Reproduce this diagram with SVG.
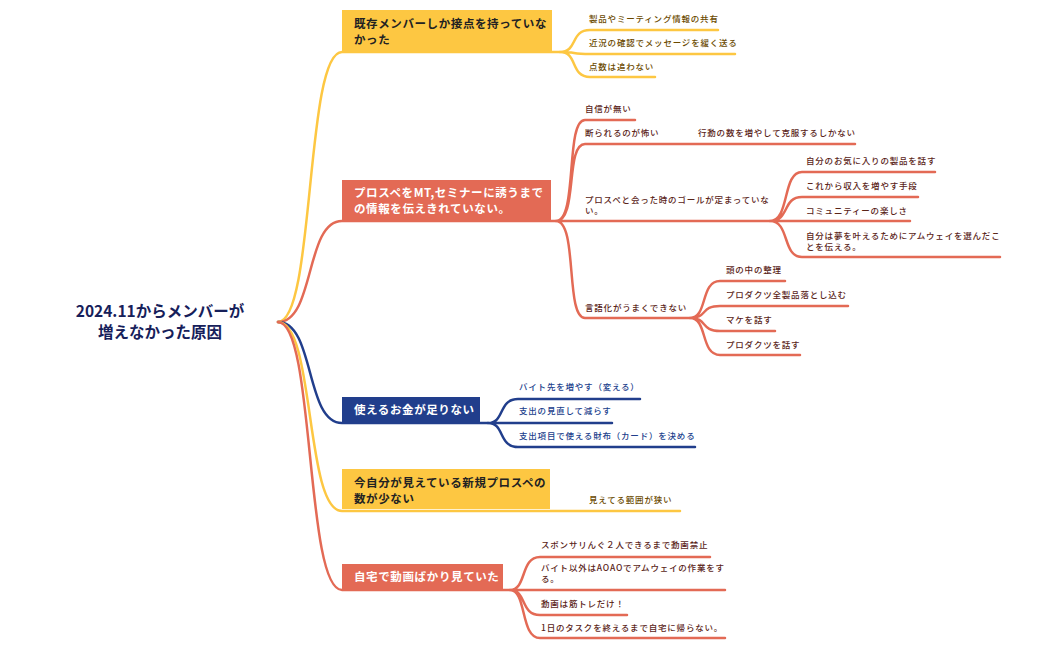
<svg xmlns="http://www.w3.org/2000/svg" width="1049" height="650" viewBox="0 0 1049 650">
<style>
text{font-family:"Noto Sans CJK JP","Noto Sans",sans-serif;}
.c{font-size:8.5px;letter-spacing:0.8px;font-weight:500}
.t{font-size:11.5px;font-weight:700;letter-spacing:0.6px}
.y{stroke:#fdc742;fill:none;stroke-width:2.5;stroke-linecap:round}
.r{stroke:#e36a55;fill:none;stroke-width:2.5;stroke-linecap:round}
.b{stroke:#213e8c;fill:none;stroke-width:2.5;stroke-linecap:round}
.yt{fill:#6b4a00}.rt{fill:#5a2418}.bt{fill:#213e8c}
</style>
<rect width="1049" height="650" fill="#fff"/>
<g id="connectors">
<path class="y" d="M278,322 C315,322 305,52 342,52 H560"/>
<path class="r" d="M278,322 C315,322 305,221 342,221 H556"/>
<path class="b" d="M278,322 C315,322 305,423 342,423 H488"/>
<path class="y" d="M278,322 C315,322 305,511 342,511 H680"/>
<path class="r" d="M278,322 C315,322 305,590 342,590 H510"/>
<path class="y" d="M560,52 C578,52 570,30 590,30 H718 M560,52 C578,52 570,54 590,54 H735 M560,52 C578,52 570,77 590,77 H655"/>
<path class="r" d="M556,221 C578,221 565,120 585,120 H635 M556,221 C578,221 565,144 585,144 H855 M556,221 H770 M556,221 C578,221 565,318 585,318 H690"/>
<path class="r" d="M770,221 C790,221 782,172 802,172 H935 M770,221 C790,221 782,197 802,197 H918 M770,221 H910 M770,221 C790,221 782,257 802,257 H1000"/>
<path class="r" d="M690,318 C708,318 700,281 720,281 H785 M690,318 C708,318 700,306 720,306 H848 M690,318 C708,318 700,331 720,331 H775 M690,318 C708,318 700,355 720,355 H800"/>
<path class="b" d="M488,423 C505,423 498,399 518,399 H640 M488,423 H612 M488,423 C505,423 498,447 518,447 H695"/>
<path class="r" d="M510,590 C527,590 520,557 540,557 H710 M510,590 H725 M510,590 C527,590 520,615 540,615 H627 M510,590 C527,590 520,638 540,638 H725"/>
</g>
<g id="root"><text x="160" y="317" text-anchor="middle" font-size="15.5" font-weight="700" fill="#16205a">2024.11からメンバーが</text><text x="160" y="338" text-anchor="middle" font-size="15.5" font-weight="700" fill="#16205a">増えなかった原因</text></g>
<g id="t1"><rect x="342" y="10" width="210" height="42" fill="#fdc742"/><text class="t" x="354" y="28" fill="#222">既存メンバーしか接点を持っていな</text><text class="t" x="354" y="44" fill="#222">かった</text></g>
<g id="t1c"><text class="c yt" x="589" y="22">製品やミーティング情報の共有</text><text class="c yt" x="589" y="46">近況の確認でメッセージを緩く送る</text><text class="c yt" x="589" y="70">点数は追わない</text></g>
<g id="t2"><rect x="342" y="180" width="209" height="40" fill="#e36a55"/><text class="t" x="354" y="197" fill="#fff">プロスペをMT,セミナーに誘うまで</text><text class="t" x="354" y="213" fill="#fff">の情報を伝えきれていない。</text></g>
<g id="t2c"><text class="c rt" x="585" y="112">自信が無い</text><text class="c rt" x="585" y="136">断られるのが怖い</text><text class="c rt" x="698" y="136">行動の数を増やして克服するしかない</text><text class="c rt" x="585" y="203">プロスペと会った時のゴールが定まっていな</text><text class="c rt" x="585" y="214">い。</text><text class="c rt" x="585" y="311">言語化がうまくできない</text>
<text class="c rt" x="806" y="164">自分のお気に入りの製品を話す</text><text class="c rt" x="806" y="189">これから収入を増やす手段</text><text class="c rt" x="806" y="214">コミュニティーの楽しさ</text><text class="c rt" x="806" y="239">自分は夢を叶えるためにアムウェイを選んだこ</text><text class="c rt" x="806" y="250">とを伝える。</text>
<text class="c rt" x="726" y="273">頭の中の整理</text><text class="c rt" x="726" y="298">プロダクツ全製品落とし込む</text><text class="c rt" x="726" y="323">マケを話す</text><text class="c rt" x="726" y="348">プロダクツを話す</text></g>
<g id="t3"><rect x="342" y="397" width="138" height="25" fill="#213e8c"/><text class="t" x="354" y="414" fill="#fff">使えるお金が足りない</text></g>
<g id="t3c"><text class="c bt" x="519" y="390">バイト先を増やす（変える）</text><text class="c bt" x="519" y="414">支出の見直して減らす</text><text class="c bt" x="519" y="439">支出項目で使える財布（カード）を決める</text></g>
<g id="t4"><rect x="342" y="469" width="208" height="40" fill="#fdc742"/><text class="t" x="354" y="487" fill="#222">今自分が見えている新規プロスペの</text><text class="t" x="354" y="503" fill="#222">数が少ない</text></g>
<g id="t4c"><text class="c yt" x="589" y="503">見えてる範囲が狭い</text></g>
<g id="t5"><rect x="342" y="564" width="161" height="25" fill="#e36a55"/><text class="t" x="354" y="581" fill="#fff">自宅で動画ばかり見ていた</text></g>
<g id="t5c"><text class="c rt" x="541" y="548">スポンサリんぐ２人できるまで動画禁止</text><text class="c rt" x="541" y="571">バイト以外はAOAOでアムウェイの作業をす</text><text class="c rt" x="541" y="582">る。</text><text class="c rt" x="541" y="607">動画は筋トレだけ！</text><text class="c rt" x="541" y="631">1日のタスクを終えるまで自宅に帰らない。</text></g>
</svg>
